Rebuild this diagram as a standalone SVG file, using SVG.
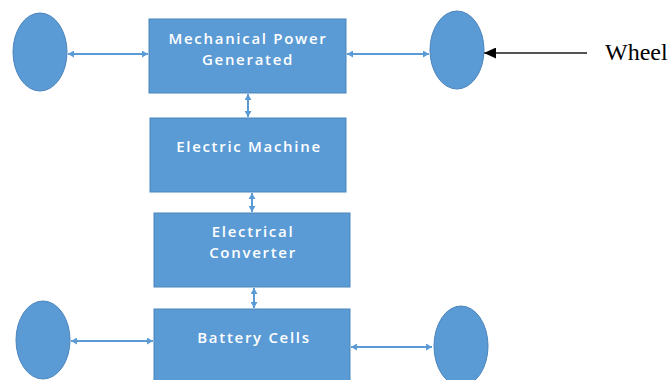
<svg xmlns="http://www.w3.org/2000/svg" width="670" height="380" viewBox="0 0 670 380">
<defs>
<style>
.box{fill:#5B9BD5;stroke:#4A84BB;stroke-width:1}
.ell{fill:#5B9BD5;stroke:#4A84BB;stroke-width:1}
.lbl{fill:#FFFFFF;font-family:"Open Sans","Noto Sans",sans-serif;font-weight:600;font-size:15px;text-anchor:middle;letter-spacing:1.7px}
.con{stroke:#5B9BD5;stroke-width:2;fill:none;marker-start:url(#ab);marker-end:url(#ae)}
.blk{stroke:#1A1A1A;stroke-width:1.6;fill:none;marker-end:url(#bk)}
</style>
<marker id="ae" viewBox="0 0 10 10" refX="10" refY="5" markerWidth="6" markerHeight="7" orient="auto" markerUnits="userSpaceOnUse" preserveAspectRatio="none">
<path d="M0,0 L10,5 L0,10 z" fill="#5B9BD5"/>
</marker>
<marker id="ab" viewBox="0 0 10 10" refX="0" refY="5" markerWidth="6" markerHeight="7" orient="auto" markerUnits="userSpaceOnUse" preserveAspectRatio="none">
<path d="M10,0 L0,5 L10,10 z" fill="#5B9BD5"/>
</marker>
<marker id="bk" viewBox="0 0 10 10" refX="10" refY="5" markerWidth="12" markerHeight="11" orient="auto" markerUnits="userSpaceOnUse" preserveAspectRatio="none">
<path d="M0,0 L10,5 L0,10 z" fill="#000000"/>
</marker>
</defs>
<rect width="670" height="380" fill="#FFFFFF"/>
<g id="connectors">
<line class="con" x1="68" y1="54" x2="148" y2="54"/>
<line class="con" x1="347" y1="54" x2="429" y2="54"/>
<line class="con" x1="248" y1="94" x2="248" y2="117"/>
<line class="con" x1="252" y1="193" x2="252" y2="212"/>
<line class="con" x1="254" y1="288" x2="254" y2="308"/>
<line class="con" x1="71" y1="341" x2="153" y2="341"/>
<line class="con" x1="351" y1="347" x2="432" y2="347"/>
<line class="blk" x1="587" y1="53" x2="484" y2="53"/>
</g>
<g id="wheel-top-left"><ellipse class="ell" cx="40" cy="52" rx="27" ry="39"/></g>
<g id="wheel-top-right"><ellipse class="ell" cx="457" cy="50" rx="27" ry="39"/></g>
<g id="wheel-bottom-left"><ellipse class="ell" cx="43" cy="340" rx="27" ry="39"/></g>
<g id="wheel-bottom-right"><ellipse class="ell" cx="461" cy="346" rx="27" ry="40"/></g>
<g id="mech-power">
<rect class="box" x="149" y="19" width="197" height="74"/>
<text class="lbl" x="248" y="44">Mechanical Power</text>
<text class="lbl" x="248" y="64.5">Generated</text>
</g>
<g id="electric-machine">
<rect class="box" x="150" y="118" width="196" height="74"/>
<text class="lbl" x="249" y="152">Electric Machine</text>
</g>
<g id="electrical-converter">
<rect class="box" x="154" y="213" width="196" height="74"/>
<text class="lbl" x="253" y="237">Electrical</text>
<text class="lbl" x="253" y="257.5">Converter</text>
</g>
<g id="battery-cells">
<rect class="box" x="154" y="309" width="196" height="75"/>
<text class="lbl" x="254" y="343">Battery Cells</text>
</g>
<g id="wheel-label">
<text x="605" y="60" font-family="Liberation Serif, serif" font-size="24" fill="#000000">Wheel</text>
</g>
</svg>
